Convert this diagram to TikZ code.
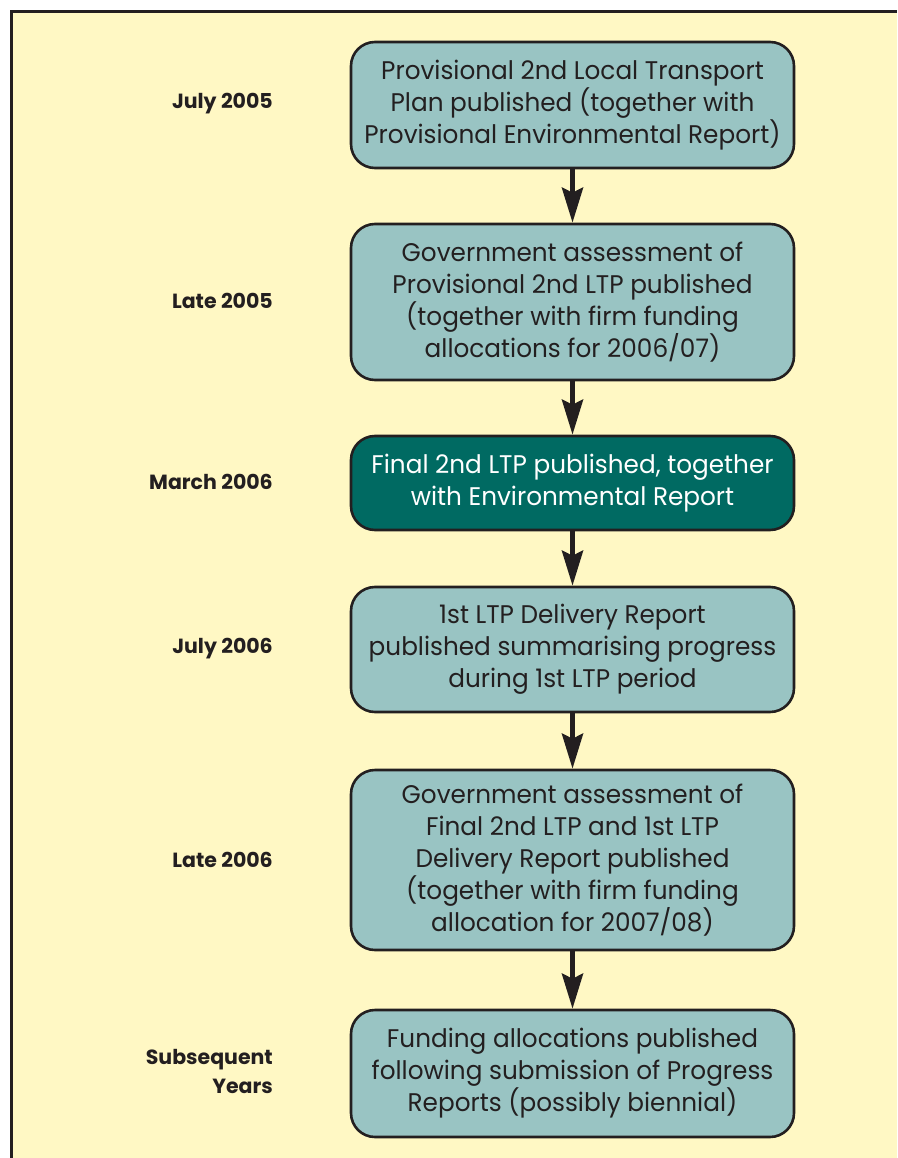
\documentclass[tikz,border=0pt]{standalone}
\usepackage{fontspec}
\setmainfont{Poppins}[FakeStretch=0.97]
\newfontfamily\labelfont{Poppins}[UprightFont=* Bold]
\usetikzlibrary{arrows.meta}
\definecolor{paper}{HTML}{FFF8C4}
\definecolor{stagefill}{HTML}{99C4C3}
\definecolor{keyfill}{HTML}{006A62}
\definecolor{ink}{HTML}{231F20}
\tikzset{
  stage/.style={draw=ink, line width=2.6pt, rounded corners=24pt, fill=stagefill,
    minimum width=443pt, align=center, text=ink,
    font=\fontsize{25.5}{32}\selectfont, inner sep=0pt},
  keystage/.style={stage, fill=keyfill, text=white},
  datelabel/.style={anchor=east, align=right, text=ink, inner sep=0pt,
    font=\labelfont\fontsize{20.5}{29}\selectfont},
  flow/.style={draw=ink, line width=5pt,
    -{Stealth[length=35pt,width=21pt,inset=5pt]}}
}
\begin{document}
\begin{tikzpicture}[x=1pt,y=-1pt]
\useasboundingbox (0,0) rectangle (897,1158);
\fill[white] (0,0) rectangle (897,1158);
\fill[paper] (11,12) rectangle (897,1158);
\draw[ink, line width=3pt] (11,1158) -- (11,12) -- (897,12);

\node[stage, minimum height=126pt] (s1) at (572.5,105) {Provisional 2nd Local Transport\\Plan published (together with\\Provisional Environmental Report)};
\node[stage, minimum height=156pt] (s2) at (572.5,302) {Government assessment of\\Provisional 2nd LTP published\\(together with firm funding\\allocations for 2006/07)};
\node[keystage, minimum height=94pt] (s3) at (572.5,483) {Final 2nd LTP published, together\\with Environmental Report};
\node[stage, minimum height=125pt] (s4) at (572.5,649.5) {1st LTP Delivery Report\\published summarising progress\\during 1st LTP period};
\node[stage, minimum height=180pt] (s5) at (572.5,860) {Government assessment of\\Final 2nd LTP and 1st LTP\\Delivery Report published\\(together with firm funding\\allocation for 2007/08)};
\node[stage, minimum height=127pt] (s6) at (572.5,1073.5) {Funding allocations published\\following submission of Progress\\Reports (possibly biennial)};

\draw[flow] (s1.south) -- (s2.north);
\draw[flow] (s2.south) -- (s3.north);
\draw[flow] (s3.south) -- (s4.north);
\draw[flow] (s4.south) -- (s5.north);
\draw[flow] (s5.south) -- (s6.north);

\node[datelabel] (d1) at (273,104) {July 2005};
\node[datelabel] (d2) at (273,301) {Late 2005};
\node[datelabel] (d3) at (273,482) {March 2006};
\node[datelabel] (d4) at (273,649) {July 2006};
\node[datelabel] (d5) at (273,860) {Late 2006};
\node[datelabel] (d6) at (273,1071) {Subsequent\\Years};
\end{tikzpicture}
\end{document}
